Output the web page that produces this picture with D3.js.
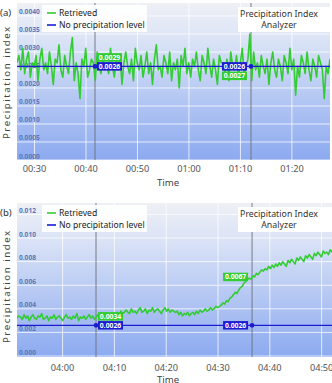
<!DOCTYPE html>
<html><head><meta charset="utf-8">
<script src="https://cdn.jsdelivr.net/npm/d3@7"></script>
<style>
html,body{margin:0;padding:0;background:#fff;}
svg{display:block;font-family:"Noto Sans",sans-serif;}
</style></head>
<body><svg id="c" width="332" height="383"></svg>
<script>
// ---------- DATA ----------
// Panel (a): time in minutes after 00:00
const timeRangeA = [26.6, 87.4];
const retrievedA = [
.0027,.0029,.0025,.0031,.0024,.0028,.0030,.0023,.0027,.0026,.0029,.0022,.0028,.0031,.0025,.0027,.0024,.0030,.0026,.0021,.0028,.0027,.0032,.0025,.0023,.0029,.0026,.0024,.0030,.0034,
.0022,.0027,.0024,.0017,.0028,.0026,.0031,.0023,.0025,.0028,.0027,.0022,.0030,.0026,.0024,.0029,.0025,.0027,.0024,.0031,.0026,.0023,.0028,.0025,.0029,.0021,.0027,.0030,.0026,.0024,
.0028,.0022,.0031,.0027,.0025,.0029,.0023,.0026,.0030,.0024,.0027,.0021,.0028,.0032,.0025,.0026,.0023,.0029,.0027,.0024,.0030,.0022,.0027,.0025,.0028,.0020,.0029,.0026,.0031,.0024,
.0027,.0023,.0028,.0026,.0030,.0025,.0022,.0029,.0027,.0024,.0031,.0026,.0023,.0028,.0025,.0021,.0029,.0027,.0027,.0024,.0028,.0022,.0030,.0026,.0025,.0029,.0023,.0027,.0031,.0024,
.0026,.0028,.0035,.0022,.0030,.0025,.0027,.0023,.0029,.0026,.0024,.0028,.0021,.0027,.0030,.0025,.0023,.0028,.0026,.0022,.0029,.0027,.0024,.0031,.0025,.0028,.0018,.0026,.0023,.0029,
.0027,.0024,.0030,.0025,.0022,.0028,.0026,.0023,.0029,.0027,.0025,.0017,.0026,.0024,.0028];
const noPrecipA = 0.0026;
const yTicksA = [0,0.0005,0.001,0.0015,0.002,0.0025,0.003,0.0035,0.004];
const yTickLabelsA = ["0.0000","0.0005","0.0010","0.0015","0.0020","0.0025","0.0030","0.0035","0.0040"];
const xTicksA = [30,40,50,60,70,80];
const xTickLabelsA = ["00:30","00:40","00:50","01:00","01:10","01:20"];
const cursorTimesA = [41.75, 72.05];
const cursorRetrievedA = [0.0029, 0.0027];
const cursorLevelA = [0.0026, 0.0026];

// Panel (b): time in minutes after 00:00
const timeRangeB = [231.2, 292.0];
const retrievedB = [
.0032,.0034,.0033,.0031,.0035,.0032,.0034,.0030,.0033,.0035,.0032,.0031,.0034,.0033,.0036,.0031,.0032,.0034,.0030,.0033,.0032,.0035,.0031,.0033,.0034,.0032,.0030,.0033,.0035,.0032,
.0033,.0031,.0034,.0032,.0036,.0030,.0033,.0032,.0034,.0031,.0033,.0035,.0032,.0034,.0031,.0033,.0035,.0032,.0034,.0033,.0035,.0032,.0034,.0031,.0030,.0035,
.0035,.0037,.0034,.0038,.0036,.0037,.0039,.0037,.0036,.0040,.0037,.0038,.0036,.0039,.0041,.0037,.0038,.0040,.0036,.0039,.0038,.0041,.0037,.0039,.0040,.0038,.0036,.0039,.0041,.0038,.0040,.0037,.0039,.0038,
.0037,.0038,.0035,.0037,.0034,.0036,.0035,.0037,.0034,.0036,.0037,.0035,.0038,.0036,.0039,.0037,.0038,.0040,.0038,.0039,.0041,.0039,.0040,.0042,.0041,
.0042,.0043,.0045,.0044,.0047,.0046,.0049,.0050,.0052,.0054,.0053,.0056,.0058,.0059,.0062,.0063,.0065,
.0066,.0065,.0068,.0067,.0070,.0069,.0071,.0073,.0072,.0074,.0073,.0076,
.0074,.0077,.0075,.0078,.0076,.0079,.0077,.0080,.0078,.0076,.0081,.0079,.0082,.0080,.0078,.0083,.0081,.0084,.0082,.0080,.0085,.0083,.0086,.0084,.0082,.0087,.0085,.0088,.0086,.0084,.0089,.0087,.0088,.0086,.0090,.0088];
const noPrecipB = 0.0026;
const yTicksB = [0,0.002,0.004,0.006,0.008,0.010,0.012];
const yTickLabelsB = ["0.000","0.002","0.004","0.006","0.008","0.010","0.012"];
const xTicksB = [240,250,260,270,280,290];
const xTickLabelsB = ["04:00","04:10","04:20","04:30","04:40","04:50"];
const cursorTimesB = [246.45, 276.57];
const cursorRetrievedB = [0.0034, 0.0067];
const cursorLevelB = [0.0026, 0.0026];

const legendLabels = ["Retrieved","No precipitation level"];
const titleLines = ["Precipitation Index","Analyzer"];

// ---------- DRAW ----------
const svg = d3.select("#c");
const defs = svg.append("defs");
const grad = defs.append("linearGradient").attr("id","bg").attr("x1",0).attr("y1",0).attr("x2",0).attr("y2",1);
grad.append("stop").attr("offset","0%").attr("stop-color","#eef0f5");
grad.append("stop").attr("offset","25%").attr("stop-color","#d9e2f6");
grad.append("stop").attr("offset","100%").attr("stop-color","#8caaf0");

const GREEN = "#33cc33", BLUE = "#1c1cd0";

function panel(o){
  const g = svg.append("g");
  const x = d3.scaleLinear().domain(o.timeRange).range([o.left,o.right]);
  const y = d3.scaleLinear().domain(o.yDomain).range([o.y0, o.top]);
  g.append("rect").attr("x",o.left).attr("y",o.top).attr("width",o.right-o.left).attr("height",o.bottom-o.top).attr("fill","url(#bg)");
  const clipId = "clip"+o.id;
  defs.append("clipPath").attr("id",clipId).append("rect").attr("x",o.left).attr("y",o.top).attr("width",o.right-o.left).attr("height",o.bottom-o.top);
  // gridlines
  g.selectAll(".hg").data(o.yTicks).enter().append("line")
    .attr("x1",o.left).attr("x2",o.right).attr("y1",d=>y(d)).attr("y2",d=>y(d))
    .attr("stroke","#ffffff").attr("stroke-opacity",0.75).attr("stroke-width",1);
  g.selectAll(".vg").data(o.xTicks).enter().append("line")
    .attr("y1",o.top).attr("y2",o.bottom).attr("x1",d=>x(d)).attr("x2",d=>x(d))
    .attr("stroke","#ffffff").attr("stroke-opacity",0.75).attr("stroke-width",1);
  // y tick labels inside plot
  g.selectAll(".yl").data(o.yTicks).enter().append("text")
    .attr("x",o.left+2).attr("y",d=>y(d)-1.5)
    .attr("font-size",6.6).attr("font-weight","bold").attr("fill","#5a78b8")
    .text((d,i)=>o.yTickLabels[i]);
  // x tick labels
  g.selectAll(".xl").data(o.xTicks).enter().append("text")
    .attr("x",d=>x(d)).attr("y",o.xLabelY).attr("text-anchor","middle")
    .attr("font-size",9.2).attr("fill","#555")
    .text((d,i)=>o.xTickLabels[i]);
  // axis titles
  g.append("text").attr("x",168).attr("y",o.timeY).attr("text-anchor","middle").attr("font-size",9.6).attr("fill","#444").text("Time");
  g.append("text").attr("transform",`translate(10,${o.ylabCenter}) rotate(-90)`).attr("text-anchor","middle")
    .attr("font-size",9.6).attr("fill","#444").attr("textLength",112).attr("lengthAdjust","spacing").text("Precipitation index");
  g.append("text").attr("x",0).attr("y",o.top+13).attr("font-size",9.6).attr("fill","#333").text(o.tag);
  // cursor lines
  g.selectAll(".cur").data(o.cursorTimes).enter().append("line")
    .attr("x1",d=>x(d)).attr("x2",d=>x(d)).attr("y1",o.top).attr("y2",o.bottom)
    .attr("stroke","#6b6f7a").attr("stroke-width",0.9);
  // series
  const n = o.retrieved.length;
  const step = (o.timeRange[1]-o.timeRange[0])/(n-1);
  const line = d3.line().x((d,i)=>x(o.timeRange[0]+i*step)).y(d=>y(d));
  const pg = g.append("g").attr("clip-path",`url(#${clipId})`);
  pg.append("path").datum(o.retrieved).attr("d",line).attr("fill","none").attr("stroke",GREEN).attr("stroke-width",1.6).attr("stroke-linejoin","round");
  pg.append("line").attr("x1",o.left).attr("x2",o.right).attr("y1",y(o.noPrecip)).attr("y2",y(o.noPrecip)).attr("stroke",BLUE).attr("stroke-width",1.3);
  // cursor labels
  o.cursorTimes.forEach((t,i)=>{
    const cx = x(t);
    const right = o.labelSide[i]==="right";
    const by = y(o.cursorLevel[i]);
    pg.append("circle").attr("cx",cx).attr("cy",by).attr("r",2.4).attr("fill",BLUE);
    const w = 25, h = 8.5;
    const bx = right ? cx+2 : cx-4-w;
    let gy = y(o.cursorRetrieved[i]);
    if (Math.abs(gy-by) < 12) gy = o.greenBelow[i] ? by+h+1 : by-h-0.5;
    [[BLUE,by,o.cursorLevel[i]],[GREEN,gy,o.cursorRetrieved[i]]].forEach(([c,yy,v])=>{
      pg.append("rect").attr("x",bx).attr("y",yy-h/2).attr("width",w).attr("height",h).attr("fill",c);
      pg.append("text").attr("x",bx+w/2).attr("y",yy+2.4).attr("text-anchor","middle")
        .attr("font-size",6.8).attr("font-weight","bold").attr("fill","#fff").text(v.toFixed(4));
    });
  });
  // legend
  const lg = g.append("g");
  lg.append("rect").attr("x",42).attr("y",o.top+2).attr("width",105).attr("height",27).attr("fill","#fff").attr("fill-opacity",0.9);
  [GREEN,BLUE].forEach((c,i)=>{
    const yy = o.top+10+i*12;
    lg.append("line").attr("x1",47).attr("x2",56).attr("y1",yy).attr("y2",yy).attr("stroke",c).attr("stroke-width",1.6);
    lg.append("text").attr("x",59).attr("y",yy+3).attr("font-size",8.6).attr("fill","#222").text(legendLabels[i]);
  });
  // title box
  const tg = g.append("g");
  tg.append("rect").attr("x",238).attr("y",o.top+4).attr("width",o.right-238).attr("height",25).attr("fill","#fff");
  titleLines.forEach((s,i)=>{
    tg.append("text").attr("x",279).attr("y",o.top+14+i*11).attr("text-anchor","middle").attr("font-size",8.8).attr("fill","#333").text(s);
  });
}

panel({id:"a",tag:"(a)",left:17,right:330,top:3,bottom:160,y0:160,yDomain:[0,0.00436],
  timeRange:timeRangeA,retrieved:retrievedA,noPrecip:noPrecipA,yTicks:yTicksA,yTickLabels:yTickLabelsA,
  xTicks:xTicksA,xTickLabels:xTickLabelsA,cursorTimes:cursorTimesA,cursorRetrieved:cursorRetrievedA,cursorLevel:cursorLevelA,
  labelSide:["right","left"],greenBelow:[false,true],xLabelY:172,timeY:186,ylabCenter:83});
panel({id:"b",tag:"(b)",left:17,right:332,top:203,bottom:357,y0:356,yDomain:[0,0.01297],
  timeRange:timeRangeB,retrieved:retrievedB,noPrecip:noPrecipB,yTicks:yTicksB,yTickLabels:yTickLabelsB,
  xTicks:xTicksB,xTickLabels:xTickLabelsB,cursorTimes:cursorTimesB,cursorRetrieved:cursorRetrievedB,cursorLevel:cursorLevelB,
  labelSide:["right","left"],greenBelow:[false,false],xLabelY:370.5,timeY:383,ylabCenter:287});
</script></body></html>
